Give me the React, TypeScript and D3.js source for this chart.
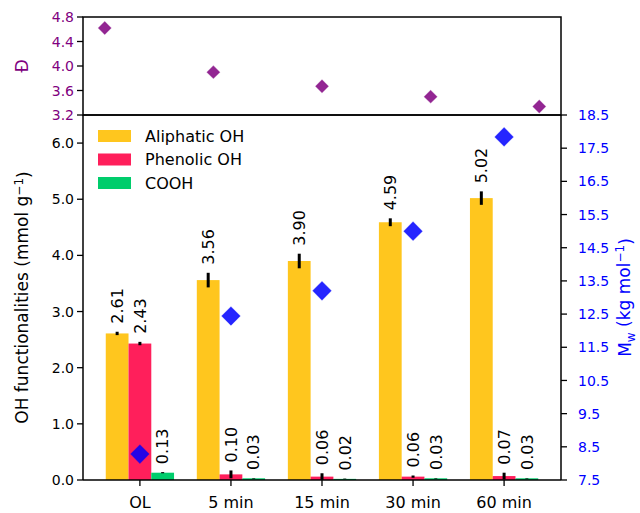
import React from 'react';
import * as d3 from 'd3';

const categories = ['OL', '5 min', '15 min', '30 min', '60 min'];
const aliphatic = [2.61, 3.56, 3.9, 4.59, 5.02];
const aliphaticErr = [0.03, 0.13, 0.13, 0.07, 0.12];
const phenolic = [2.43, 0.1, 0.06, 0.06, 0.07];
const phenolicErr = [0.03, 0.07, 0.06, 0.02, 0.06];
const cooh = [0.13, 0.03, 0.02, 0.03, 0.03];
const coohErr = [0.01, 0.005, 0.005, 0.005, 0.005];
const dispersity = [4.62, 3.9, 3.67, 3.5, 3.34];
const mw = [8.28, 12.44, 13.2, 15.0, 17.84];
const ohTicks = [0, 1, 2, 3, 4, 5, 6];
const mwTicks = [7.5, 8.5, 9.5, 10.5, 11.5, 12.5, 13.5, 14.5, 15.5, 16.5, 17.5, 18.5];
const dTicks = [3.2, 3.6, 4.0, 4.4, 4.8];

const W = 640;
const H = 513;
const left = 83;
const right = 561;
const top = 17;
const mid = 115;
const bottom = 480;
const font = 'DejaVu Sans';
const PURPLE = '#800080';
const BLUE = '#0000ff';

const series = [
  { name: 'Aliphatic OH', values: aliphatic, err: aliphaticErr, color: '#FFC61E', offset: -1 },
  { name: 'Phenolic OH', values: phenolic, err: phenolicErr, color: '#FF1F5B', offset: 0 },
  { name: 'COOH', values: cooh, err: coohErr, color: '#00CD6C', offset: 1 },
];

const barW = 0.25;

export default function App() {
  // bottom panel scales
  const x = d3.scaleLinear().domain([-0.625, 4.625]).range([left, right]);
  const y = d3.scaleLinear().domain([0, 6.5]).range([bottom, mid]);
  const yR = d3.scaleLinear().domain([7.5, 18.5]).range([bottom, mid]);
  // top panel scales
  const xT = d3.scaleLinear().domain([-0.2, 4.2]).range([left, right]);
  const yT = d3.scaleLinear().domain([3.2, 4.8]).range([mid, top]);

  const bigDiamond = d3.symbol(d3.symbolSquare, 165)();
  const smallDiamond = d3.symbol(d3.symbolSquare, 78)();
  const fmt = d3.format('.1f');

  return (
    <svg width={W} height={H} style={{ position: 'absolute', left: 0, top: 0, background: '#fff' }}
      fontFamily={font}>
      {/* ---- top panel: dispersity ---- */}
      <rect x={left} y={top} width={right - left} height={mid - top} fill="none" stroke="#000" strokeWidth={1.5} />
      {dTicks.map(t => (
        <g key={'dt' + t} transform={`translate(${left},${yT(t)})`}>
          <line x1={-6} x2={0} stroke="#000" strokeWidth={1.3} />
          <text x={-9} dy="0.36em" textAnchor="end" fontSize={14} fill={PURPLE}>{fmt(t)}</text>
        </g>
      ))}
      <text transform={`translate(28,${yT(4.0)}) rotate(-90)`} textAnchor="middle" fontSize={17} fill={PURPLE}>Đ</text>
      {dispersity.map((d, i) => (
        <path key={'dp' + i} d={smallDiamond} transform={`translate(${xT(i)},${yT(d)}) rotate(45)`}
          fill={PURPLE} fillOpacity={0.85} stroke={PURPLE} strokeOpacity={0.5} />
      ))}

      {/* ---- bottom panel: bars ---- */}
      {series.map(s =>
        s.values.map((v, i) => {
          const cx = i + s.offset * barW;
          return (
            <rect key={s.name + i} x={x(cx - barW / 2)} y={y(v)} width={x(barW) - x(0)} height={y(0) - y(v)}
              fill={s.color} />
          );
        })
      )}
      {/* error bars and value labels */}
      {series.map(s =>
        s.values.map((v, i) => {
          const cx = x(i + s.offset * barW);
          const e = s.err[i];
          const ty = y(v + e) - 8;
          return (
            <g key={'e' + s.name + i}>
              <line x1={cx} x2={cx} y1={y(v - e)} y2={y(v + e)} stroke="#000" strokeWidth={3} />
              <text transform={`translate(${cx},${ty}) rotate(-90)`} dy="0.36em" fontSize={16} fill="#000">
                {v.toFixed(2)}
              </text>
            </g>
          );
        })
      )}
      {/* Mw diamonds */}
      {mw.map((m, i) => (
        <path key={'mw' + i} d={bigDiamond} transform={`translate(${x(i)},${yR(m)}) rotate(45)`}
          fill={BLUE} fillOpacity={0.85} stroke={BLUE} strokeOpacity={0.5} />
      ))}

      {/* spines */}
      <line x1={left} x2={left} y1={mid} y2={bottom} stroke="#000" strokeWidth={1.5} />
      <line x1={right} x2={right} y1={mid} y2={bottom} stroke="#000" strokeWidth={1.5} />
      <line x1={left} x2={right} y1={bottom} y2={bottom} stroke="#000" strokeWidth={1.5} />
      <line x1={left} x2={right} y1={mid} y2={mid} stroke="#000" strokeWidth={1.5} />

      {/* left axis */}
      {ohTicks.map(t => (
        <g key={'ot' + t} transform={`translate(${left},${y(t)})`}>
          <line x1={-6} x2={0} stroke="#000" strokeWidth={1.3} />
          <text x={-9} dy="0.36em" textAnchor="end" fontSize={14} fill="#000">{fmt(t)}</text>
        </g>
      ))}
      <text transform={`translate(28,${(mid + bottom) / 2}) rotate(-90)`} textAnchor="middle" fontSize={17} fill="#000">
        OH functionalities (mmol g<tspan dy="-0.45em" fontSize={12}>−1</tspan><tspan dy="0.45em">)</tspan>
      </text>

      {/* right axis */}
      {mwTicks.map(t => (
        <g key={'mt' + t} transform={`translate(${right},${yR(t)})`}>
          <line x1={0} x2={6} stroke="#000" strokeWidth={1.3} />
          <text x={17} dy="0.36em" textAnchor="start" fontSize={14} fill={BLUE}>{fmt(t)}</text>
        </g>
      ))}
      <text transform={`translate(631,${(mid + bottom) / 2}) rotate(-90)`} textAnchor="middle" fontSize={17} fill={BLUE}>
        M<tspan dy="0.3em" fontSize={12}>w</tspan><tspan dy="-0.3em"> (kg mol</tspan>
        <tspan dy="-0.45em" fontSize={12}>−1</tspan><tspan dy="0.45em">)</tspan>
      </text>

      {/* x axis */}
      {categories.map((c, i) => (
        <g key={'xc' + i} transform={`translate(${x(i)},${bottom})`}>
          <line y1={0} y2={6} stroke="#000" strokeWidth={1.3} />
          <text y={28} textAnchor="middle" fontSize={16} fill="#000">{c}</text>
        </g>
      ))}

      {/* legend */}
      {series.map((s, i) => (
        <g key={'lg' + i} transform={`translate(98,${136 + i * 23.5})`}>
          <rect x={0} y={-6} width={33} height={12} fill={s.color} />
          <text x={47} dy="0.36em" fontSize={16} fill="#000">{s.name}</text>
        </g>
      ))}
    </svg>
  );
}
